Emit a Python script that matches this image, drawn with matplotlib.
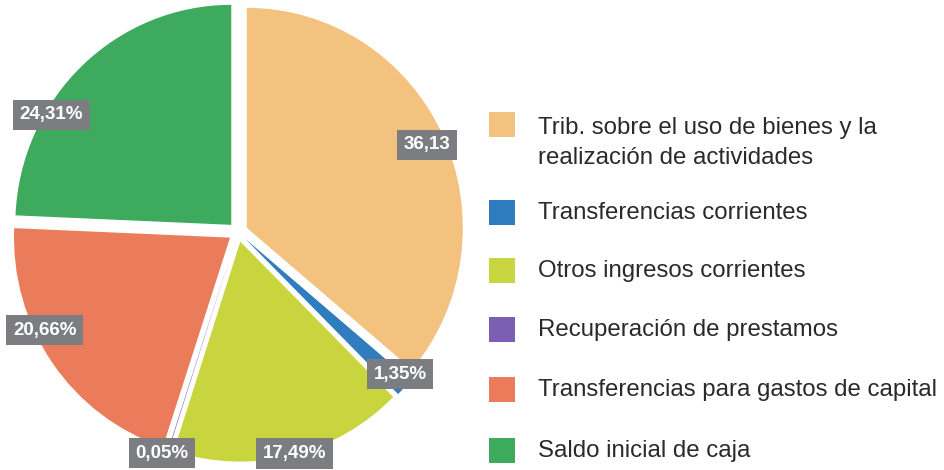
import numpy as np
import matplotlib.pyplot as plt
from matplotlib.patches import Rectangle

# datos del grafico
categorias = ["Trib. sobre el uso de bienes y la\nrealización de actividades",
              "Transferencias corrientes",
              "Otros ingresos corrientes",
              "Recuperación de prestamos",
              "Transferencias para gastos de capital",
              "Saldo inicial de caja"]
valores = [36.13, 1.35, 17.49, 0.05, 20.66, 24.31]
etiquetas = ["36,13", "1,35%", "17,49%", "0,05%", "20,66%", "24,31%"]
colores = ["#F2C27E", "#2F7DBE", "#C8D53F", "#7A5FB5", "#EA7C5C", "#3DAA5E"]

fig = plt.figure(figsize=(9.45, 4.7), dpi=100)
fig.patch.set_facecolor("white")

# ejes del pie (el escaneo esta algo estirado en vertical)
Rx, Ry = 216, 220
cx, cy = 238, 232
ax = fig.add_axes([0, 0, 482 / 945, 1])
wedges, _ = ax.pie(valores, colors=colores, startangle=90, counterclock=False,
                   explode=[0.045] * len(valores),
                   wedgeprops=dict(linewidth=0))
ax.set_xlim(-cx / Rx, (482 - cx) / Rx)
ax.set_ylim(-(470 - cy) / Ry, cy / Ry)
ax.set_aspect("auto")
ax.axis("off")

# etiquetas en cajas grises
dist = [0.96, 0.99, 1.04, 1.065, 1.0, 1.015]
desvio = [-0.6, 1.8, 1.1, -1.3, -8.2, 14.6]
for w, txt, d, dv in zip(wedges, etiquetas, dist, desvio):
    ang = np.deg2rad((w.theta1 + w.theta2) / 2 + dv)
    ax.text(d * np.cos(ang), d * np.sin(ang), txt, ha="center", va="center",
            fontsize=13.5, fontweight="bold", color="white",
            family="Liberation Sans",
            bbox=dict(boxstyle="square,pad=0.36", fc="#7C7D81", ec="none"))

# leyenda manual
filas_y = [125, 213, 271, 330, 390, 451]
for c, lab, y in zip(colores, categorias, filas_y):
    fy = 1 - y / 470
    fig.patches.append(Rectangle((489 / 945, fy - 12 / 470), 26 / 945, 25 / 470,
                                 transform=fig.transFigure, fc=c, ec="none"))
    if "\n" in lab:
        fig.text(538 / 945, 1 - 117 / 470, lab, ha="left", va="top",
                 fontsize=17.3, color="#2a2a2a", family="Liberation Sans",
                 linespacing=1.45)
    else:
        fig.text(538 / 945, fy, lab, ha="left", va="center",
                 fontsize=17.3, color="#2a2a2a", family="Liberation Sans")

fig.savefig("out.png", dpi=100)
